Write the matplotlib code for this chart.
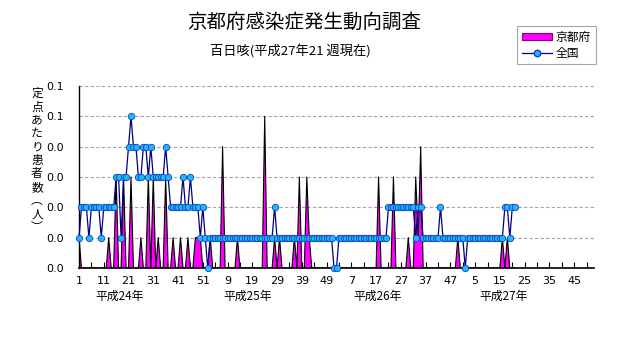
import matplotlib
matplotlib.use("Agg")
import matplotlib.pyplot as plt
from matplotlib.patches import Patch
from matplotlib.lines import Line2D
import numpy as np

plt.rcParams['font.family'] = ['Noto Sans CJK JP', 'DejaVu Sans']

# ---------------- data ----------------
title = "京都府感染症発生動向調査"
subtitle = "百日咳(平成27年21 週現在)"
ylabel_chars = ["定", "点", "あ", "た", "り", "患", "者", "数", "︵", "人", "︶"]
series_names = ["京都府", "全国"]

n_weeks_total = 209      # H24(52) + H25(52) + H26(52) + H27(53)
n_reported = 177         # up to H27 week 21

# Kyoto (index: week number counted from H24 week 1, 0-based) -> value
kyoto_idx = [0, 12, 15, 18, 21, 25, 28, 30, 32, 35, 38, 41, 44, 47, 48, 49,
             53, 58, 64, 75, 79, 81, 87, 89, 92, 93,
             121, 127, 133, 136, 137, 138, 153, 171, 173]
kyoto_val = [0.01, 0.01, 0.03, 0.03, 0.03, 0.01, 0.03, 0.03, 0.01, 0.03, 0.01, 0.01, 0.01, 0.01, 0.01, 0.01,
             0.01, 0.04, 0.01, 0.05, 0.01, 0.01, 0.01, 0.03, 0.03, 0.01,
             0.03, 0.03, 0.01, 0.03, 0.01, 0.04, 0.01, 0.01, 0.01]

national = [
    # H24 weeks 1-52
    0.01, 0.02, 0.02, 0.02, 0.01, 0.02, 0.02, 0.02, 0.02, 0.01,
    0.02, 0.02, 0.02, 0.02, 0.02, 0.03, 0.03, 0.01, 0.03, 0.03,
    0.04, 0.05, 0.04, 0.04, 0.03, 0.03, 0.04, 0.04, 0.03, 0.04,
    0.03, 0.03, 0.03, 0.03, 0.03, 0.04, 0.03, 0.02, 0.02, 0.02,
    0.02, 0.02, 0.03, 0.02, 0.02, 0.03, 0.02, 0.02, 0.02, 0.01,
    0.02, 0.01,
    # H25 weeks 1-52
    0.00, 0.01, 0.01, 0.01, 0.01, 0.01, 0.01, 0.01, 0.01, 0.01,
    0.01, 0.01, 0.01, 0.01, 0.01, 0.01, 0.01, 0.01, 0.01, 0.01,
    0.01, 0.01, 0.01, 0.01, 0.01, 0.01, 0.01, 0.02, 0.01, 0.01,
    0.01, 0.01, 0.01, 0.01, 0.01, 0.01, 0.01, 0.01, 0.01, 0.01,
    0.01, 0.01, 0.01, 0.01, 0.01, 0.01, 0.01, 0.01, 0.01, 0.01,
    0.01, 0.00,
    # H26 weeks 1-52
    0.00, 0.01, 0.01, 0.01, 0.01, 0.01, 0.01, 0.01, 0.01, 0.01,
    0.01, 0.01, 0.01, 0.01, 0.01, 0.01, 0.01, 0.01, 0.01, 0.01,
    0.01, 0.02, 0.02, 0.02, 0.02, 0.02, 0.02, 0.02, 0.02, 0.02,
    0.02, 0.02, 0.01, 0.02, 0.02, 0.01, 0.01, 0.01, 0.01, 0.01,
    0.01, 0.01, 0.02, 0.01, 0.01, 0.01, 0.01, 0.01, 0.01, 0.01,
    0.01, 0.01,
    # H27 weeks 1-21
    0.00, 0.01, 0.01, 0.01, 0.01, 0.01, 0.01, 0.01, 0.01, 0.01,
    0.01, 0.01, 0.01, 0.01, 0.01, 0.01, 0.02, 0.02, 0.01, 0.02,
    0.02,
]

yticks = [0.00, 0.01, 0.02, 0.03, 0.04, 0.05, 0.06]
ytick_labels = ["0.0", "0.0", "0.0", "0.0", "0.0", "0.1", "0.1"]
xtick_pos = [0, 10, 20, 30, 40, 50, 60, 70, 80, 90, 100, 110, 120, 130, 140, 150,
             160, 170, 180, 190, 200]
xtick_labels = ["1", "11", "21", "31", "41", "51", "9", "19", "29", "39", "49",
                "7", "17", "27", "37", "47", "5", "15", "25", "35", "45"]
year_labels = ["平成24年", "平成25年", "平成26年", "平成27年"]
year_label_pos = [16.5, 68, 120.5, 171.5]

# ---------------- build ----------------
kyoto = np.zeros(n_reported)
for i, v in zip(kyoto_idx, kyoto_val):
    kyoto[i] = v
x = np.arange(n_reported)

fig = plt.figure(figsize=(6.31, 3.47), dpi=100)
ax = fig.add_axes([79 / 631, 1 - 268 / 347, (594 - 79) / 631, (268 - 86) / 347])

ax.fill_between(x, 0, kyoto, facecolor="#FF00FF", edgecolor="none", zorder=2)
ax.plot(x, kyoto, color="black", lw=0.8, zorder=3)
ax.plot(x, national, color="#000080", lw=0.9, marker="o", markersize=4.6,
        markerfacecolor="#1EB8FF", markeredgecolor="#1040C0", markeredgewidth=0.6,
        zorder=4, clip_on=False)

ax.set_xlim(0, n_weeks_total - 1)
ax.set_ylim(0, 0.06)
ax.set_yticks(yticks)
ax.set_yticklabels(ytick_labels)
ax.set_xticks(xtick_pos)
ax.set_xticklabels(xtick_labels)
ax.set_xticks(np.arange(5, n_weeks_total, 10), minor=True)

narrow = ['Liberation Sans Narrow', 'DejaVu Sans']
for lab in ax.get_xticklabels() + ax.get_yticklabels():
    lab.set_family(narrow)
    lab.set_fontsize(8)

ax.tick_params(axis="x", which="both", direction="in", length=4, width=0.8, pad=6)
ax.tick_params(axis="y", which="both", direction="in", length=0, pad=11)

for yv in yticks[1:]:
    ax.axhline(yv, color="#A8A0B0", lw=0.8, ls=(0, (3, 2)), zorder=1)

for s in ["top", "right"]:
    ax.spines[s].set_visible(False)
ax.spines["left"].set_color("black")
ax.spines["bottom"].set_color("black")
ax.spines["bottom"].set_linewidth(1.2)
ax.spines["left"].set_linewidth(1.0)

for lab, pos in zip(year_labels, year_label_pos):
    ax.text(pos, -0.0095, lab, ha="center", va="center", fontsize=8.5)

fig.text(304 / 631, 1 - 22 / 347, title, ha="center", va="center", fontsize=14)
fig.text(290 / 631, 1 - 52 / 347, subtitle, ha="center", va="center", fontsize=9.5)

fig.text(37 / 631, 1 - 87 / 347, "\n".join(ylabel_chars), ha="center", va="top",
         fontsize=8.5, linespacing=1.04)

handles = [Patch(facecolor="#FF00FF", edgecolor="#800080", linewidth=0.8),
           Line2D([0], [0], color="#000080", lw=0.9, marker="o", markersize=4.6,
                  markerfacecolor="#1EB8FF", markeredgecolor="#1040C0")]
leg = fig.legend(handles, series_names, loc="upper left",
                 bbox_to_anchor=(517 / 631, 1 - 26 / 347), fontsize=8.5,
                 frameon=True, fancybox=False, handlelength=2.6, handleheight=0.6,
                 borderpad=0.4, labelspacing=0.25, handletextpad=0.3, borderaxespad=0)
leg.get_frame().set_edgecolor("#909090")
leg.get_frame().set_linewidth(0.8)

fig.savefig("out.png", dpi=100)
